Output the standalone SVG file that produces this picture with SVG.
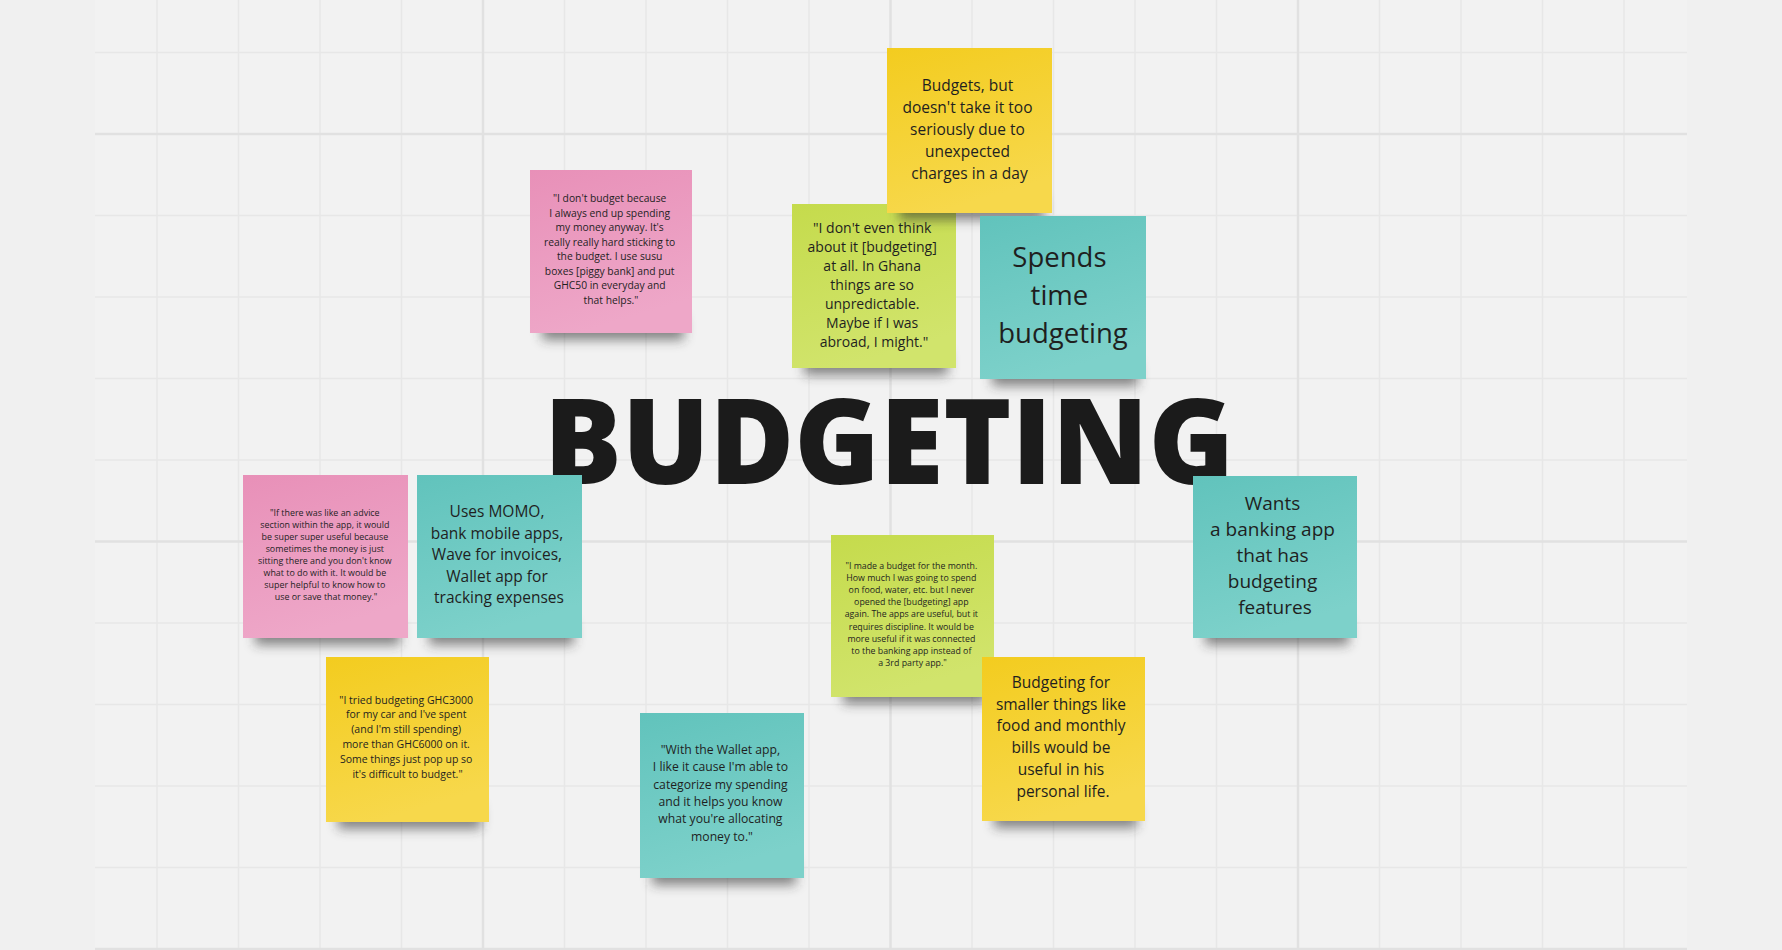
<svg xmlns="http://www.w3.org/2000/svg" width="1782" height="950" viewBox="0 0 1782 950">
<style>
.t{font-family:"Open Sans","Noto Sans","DejaVu Sans",sans-serif;fill:#1f1f1f;text-anchor:middle}
.minor{stroke:#e7e7e7;stroke-width:1.5;fill:none}
.major{stroke:#e1e1e1;stroke-width:2.5;fill:none}
.shadow{fill:#2a2a2a;opacity:.55;filter:url(#blur)}
.yellow{fill:url(#gY)}
.pink{fill:url(#gP)}
.green{fill:url(#gG)}
.teal{fill:url(#gT)}
</style>
<defs>
<filter id="blur" x="-20%" y="-100%" width="140%" height="300%"><feGaussianBlur stdDeviation="6"/></filter>
<linearGradient id="gY" x1="0" y1="0" x2="0.3" y2="1"><stop offset="0" stop-color="#f3cc1f"/><stop offset="1" stop-color="#f7d84b"/></linearGradient>
<linearGradient id="gP" x1="0" y1="0" x2="0.3" y2="1"><stop offset="0" stop-color="#e890b8"/><stop offset="1" stop-color="#eea7c8"/></linearGradient>
<linearGradient id="gG" x1="0" y1="0" x2="0.3" y2="1"><stop offset="0" stop-color="#c5db4c"/><stop offset="1" stop-color="#d1e46c"/></linearGradient>
<linearGradient id="gT" x1="0" y1="0" x2="0.3" y2="1"><stop offset="0" stop-color="#61c3bc"/><stop offset="1" stop-color="#7dd1ca"/></linearGradient>
</defs>

<g id="background">
<rect x="0" y="0" width="1782" height="950" fill="#f0f0f0"/>
<rect x="95" y="0" width="1592" height="950" fill="#f2f2f2"/>
<path class="minor" d="M157 0V950M238.5 0V950M320 0V950M401.5 0V950M564.5 0V950M646 0V950M727.5 0V950M809 0V950M972 0V950M1053.5 0V950M1135 0V950M1216.5 0V950M1379.5 0V950M1461 0V950M1542.5 0V950M1624 0V950"/>
<path class="minor" d="M95 52.5H1687M95 215.5H1687M95 297H1687M95 378.5H1687M95 460H1687M95 623H1687M95 704.5H1687M95 786H1687M95 867.5H1687"/>
<path class="major" d="M483 0V950M890.5 0V950M1298 0V950M95 134H1687M95 541.5H1687M95 949H1687"/>
</g>

<g id="connectors"></g>

<g id="title">
<text x="544" y="484" textLength="690" lengthAdjust="spacingAndGlyphs" style="font-family:'Open Sans','Noto Sans','DejaVu Sans',sans-serif;font-weight:800;font-size:119px;fill:#1b1b1b">BUDGETING</text>
</g>

<g id="note-dont-budget">
<rect class="shadow" x="542" y="316" width="142" height="24"/>
<rect class="pink" x="530" y="170" width="162" height="163"/>
<text class="t" font-size="10.3">
<tspan x="611" y="202">"I don't budget because</tspan>
<tspan x="611" y="216.5">I always end up spending</tspan>
<tspan x="611" y="231">my money anyway. It's</tspan>
<tspan x="611" y="245.5">really really hard sticking to</tspan>
<tspan x="611" y="260">the budget. I use susu</tspan>
<tspan x="611" y="274.5">boxes [piggy bank] and put</tspan>
<tspan x="611" y="289">GHC50 in everyday and</tspan>
<tspan x="611" y="303.5">that helps."</tspan>
</text>
</g>

<g id="note-dont-think">
<rect class="shadow" x="804" y="351" width="144" height="24"/>
<rect class="green" x="792" y="204" width="164" height="164"/>
<text class="t" font-size="14">
<tspan x="874" y="233">"I don't even think</tspan>
<tspan x="874" y="252">about it [budgeting]</tspan>
<tspan x="874" y="271">at all. In Ghana</tspan>
<tspan x="874" y="290">things are so</tspan>
<tspan x="874" y="309">unpredictable.</tspan>
<tspan x="874" y="328">Maybe if I was</tspan>
<tspan x="874" y="347">abroad, I might."</tspan>
</text>
</g>

<g id="note-budgets">
<rect class="shadow" x="899" y="196" width="145" height="24"/>
<rect class="yellow" x="887" y="48" width="165" height="165"/>
<text class="t" font-size="15.5">
<tspan x="969.5" y="91">Budgets, but</tspan>
<tspan x="969.5" y="113">doesn't take it too</tspan>
<tspan x="969.5" y="135">seriously due to</tspan>
<tspan x="969.5" y="157">unexpected</tspan>
<tspan x="969.5" y="179">charges in a day</tspan>
</text>
</g>

<g id="note-spends">
<rect class="shadow" x="992" y="362" width="146" height="24"/>
<rect class="teal" x="980" y="216" width="166" height="163"/>
<text class="t" font-size="27.5">
<tspan x="1063" y="267">Spends</tspan>
<tspan x="1063" y="305">time</tspan>
<tspan x="1063" y="343">budgeting</tspan>
</text>
</g>

<g id="note-advice">
<rect class="shadow" x="255" y="621" width="145" height="24"/>
<rect class="pink" x="243" y="475" width="165" height="163"/>
<text class="t" font-size="8.9">
<tspan x="326" y="515.5">"If there was like an advice</tspan>
<tspan x="326" y="527.6">section within the app, it would</tspan>
<tspan x="326" y="539.7">be super super useful because</tspan>
<tspan x="326" y="551.8">sometimes the money is just</tspan>
<tspan x="326" y="563.9">sitting there and you don't know</tspan>
<tspan x="326" y="576">what to do with it. It would be</tspan>
<tspan x="326" y="588.1">super helpful to know how to</tspan>
<tspan x="326" y="600.2">use or save that money."</tspan>
</text>
</g>

<g id="note-momo">
<rect class="shadow" x="429" y="621" width="145" height="24"/>
<rect class="teal" x="417" y="475" width="165" height="163"/>
<text class="t" font-size="15.5">
<tspan x="499" y="517">Uses MOMO,</tspan>
<tspan x="499" y="538.5">bank mobile apps,</tspan>
<tspan x="499" y="560">Wave for invoices,</tspan>
<tspan x="499" y="581.5">Wallet app for</tspan>
<tspan x="499" y="603">tracking expenses</tspan>
</text>
</g>

<g id="note-tried">
<rect class="shadow" x="338" y="805" width="143" height="24"/>
<rect class="yellow" x="326" y="657" width="163" height="165"/>
<text class="t" font-size="10.5">
<tspan x="407.5" y="703.5">"I tried budgeting GHC3000</tspan>
<tspan x="407.5" y="718.3">for my car and I've spent</tspan>
<tspan x="407.5" y="733.1">(and I'm still spending)</tspan>
<tspan x="407.5" y="747.9">more than GHC6000 on it.</tspan>
<tspan x="407.5" y="762.7">Some things just pop up so</tspan>
<tspan x="407.5" y="777.5">it's difficult to budget."</tspan>
</text>
</g>

<g id="note-made-budget">
<rect class="shadow" x="843" y="680" width="143" height="24"/>
<rect class="green" x="831" y="535" width="163" height="162"/>
<text class="t" font-size="8.8">
<tspan x="912.5" y="569">"I made a budget for the month.</tspan>
<tspan x="912.5" y="581.1">How much I was going to spend</tspan>
<tspan x="912.5" y="593.2">on food, water, etc. but I never</tspan>
<tspan x="912.5" y="605.3">opened the [budgeting] app</tspan>
<tspan x="912.5" y="617.4">again. The apps are useful, but it</tspan>
<tspan x="912.5" y="629.5">requires discipline. It would be</tspan>
<tspan x="912.5" y="641.6">more useful if it was connected</tspan>
<tspan x="912.5" y="653.7">to the banking app instead of</tspan>
<tspan x="912.5" y="665.8">a 3rd party app."</tspan>
</text>
</g>

<g id="note-smaller">
<rect class="shadow" x="994" y="804" width="143" height="24"/>
<rect class="yellow" x="982" y="657" width="163" height="164"/>
<text class="t" font-size="15.5">
<tspan x="1063" y="688">Budgeting for</tspan>
<tspan x="1063" y="709.7">smaller things like</tspan>
<tspan x="1063" y="731.4">food and monthly</tspan>
<tspan x="1063" y="753.1">bills would be</tspan>
<tspan x="1063" y="774.8">useful in his</tspan>
<tspan x="1063" y="796.5">personal life.</tspan>
</text>
</g>

<g id="note-wallet">
<rect class="shadow" x="652" y="861" width="144" height="24"/>
<rect class="teal" x="640" y="713" width="164" height="165"/>
<text class="t" font-size="12.2">
<tspan x="722" y="754">"With the Wallet app,</tspan>
<tspan x="722" y="771.3">I like it cause I'm able to</tspan>
<tspan x="722" y="788.6">categorize my spending</tspan>
<tspan x="722" y="805.9">and it helps you know</tspan>
<tspan x="722" y="823.2">what you're allocating</tspan>
<tspan x="722" y="840.5">money to."</tspan>
</text>
</g>

<g id="note-wants">
<rect class="shadow" x="1205" y="621" width="144" height="24"/>
<rect class="teal" x="1193" y="476" width="164" height="162"/>
<text class="t" font-size="19">
<tspan x="1275" y="510">Wants</tspan>
<tspan x="1275" y="536">a banking app</tspan>
<tspan x="1275" y="562">that has</tspan>
<tspan x="1275" y="588">budgeting</tspan>
<tspan x="1275" y="614">features</tspan>
</text>
</g>
</svg>
